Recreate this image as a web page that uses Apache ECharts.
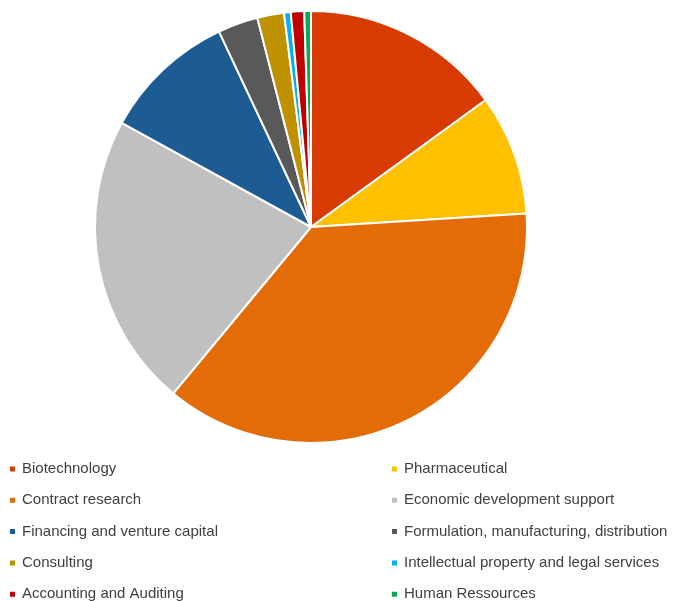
<!DOCTYPE html>
<html><head><meta charset="utf-8">
<script src="https://cdn.jsdelivr.net/npm/echarts@6/dist/echarts.min.js"></script>
<style>html,body{margin:0;padding:0;background:#fff}#c{width:682px;height:601px}</style>
</head><body><div id="c"></div>
<script>
const categories = ["Biotechnology","Pharmaceutical","Contract research","Economic development support","Financing and venture capital","Formulation, manufacturing, distribution","Consulting","Intellectual property and legal services","Accounting and Auditing","Human Ressources"];
const values = [15, 9, 37, 22, 10, 3, 2, 0.5, 1, 0.5];
const colors = ["#D83B01","#FFC000","#E36C09","#C0C0C0","#1C5C93","#595959","#BF9000","#00B0F0","#C00000","#00B050"];
const leftLegend = categories.filter((_, i) => i % 2 === 0);
const rightLegend = categories.filter((_, i) => i % 2 === 1);

const legendBase = {
  orient: 'vertical', icon: 'rect', itemWidth: 7, itemHeight: 7,
  itemGap: 11.3, selectedMode: false, height: 160, width: 300,
  textStyle: { fontFamily: 'Liberation Sans', fontSize: 15, color: '#404040', lineHeight: 20, padding: [0,0,0,1] }
};
const chart = echarts.init(document.getElementById('c'), null, {renderer: 'canvas'});
chart.setOption({
  animation: false,
  color: colors,
  legend: [
    Object.assign({}, legendBase, { data: leftLegend, left: 8, top: 459, padding: 0 }),
    Object.assign({}, legendBase, { data: rightLegend, left: 390, top: 459, padding: 0 })
  ],
  series: [{
    type: 'pie', center: [311, 227], radius: 216, startAngle: 90, clockwise: true,
    label: { show: false }, labelLine: { show: false },
    itemStyle: { borderColor: '#fff', borderWidth: 2 },
    emphasis: { disabled: true },
    data: categories.map((n, i) => ({ name: n, value: values[i] }))
  }]
});
</script></body></html>
